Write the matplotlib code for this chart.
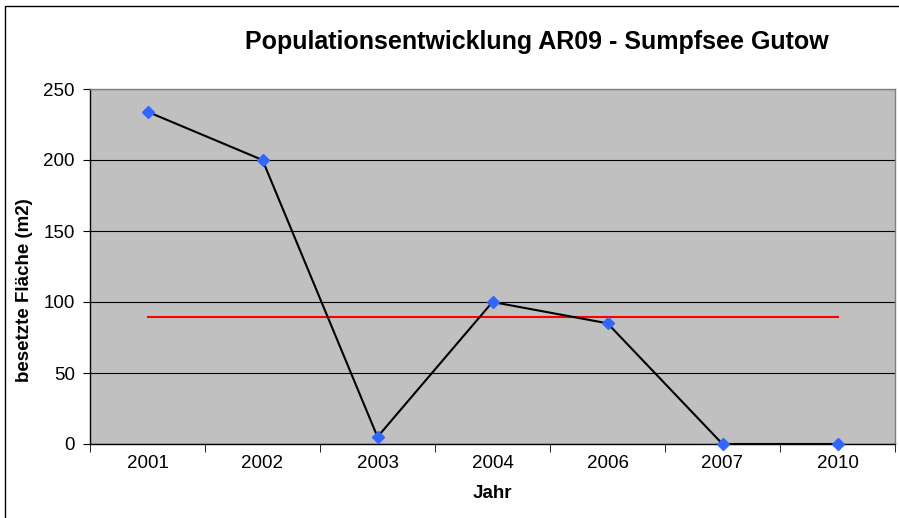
import matplotlib.pyplot as plt
import matplotlib.patches as mpatches
import numpy as np

plt.rcParams['font.family'] = ['Liberation Sans', 'DejaVu Sans']

# data
years = ["2001", "2002", "2003", "2004", "2006", "2007", "2010"]
area = [234, 200, 5, 100, 85, 0, 0]
mean_area = np.mean(area)

fig = plt.figure(figsize=(8.99, 5.18), dpi=100)
ax = fig.add_axes([90/899, 1 - 444/518, 805/899, 355/518])

x = np.arange(len(years))
ax.set_facecolor("#C0C0C0")
ax.plot(x, area, color="black", lw=1.5, marker="D", markersize=6.2,
        markerfacecolor="#3366FF", markeredgecolor="#3366FF", zorder=4,
        clip_on=False)
ax.plot([x[0], x[-1]], [mean_area, mean_area], color="#FF0000", lw=1.5, zorder=3)

ax.set_xlim(-0.5, len(years) - 0.5)
ax.set_ylim(0, 250)
ax.set_yticks(np.arange(0, 251, 50))
ax.set_xticks(x)
ax.set_xticklabels(years)
ax.set_xticks(np.arange(-0.5, len(years)), minor=True)
ax.tick_params(axis="x", which="major", length=0, labelsize=13.5, pad=8)
ax.tick_params(axis="x", which="minor", length=6, direction="out", color="black")
ax.tick_params(axis="y", length=5, direction="out", labelsize=13.5, pad=6)
ax.grid(axis="y", color="black", lw=0.8)
ax.set_axisbelow(True)

for s in ["top", "right"]:
    ax.spines[s].set_color("#808080")
    ax.spines[s].set_linewidth(1.0)
for s in ["left", "bottom"]:
    ax.spines[s].set_color("black")
    ax.spines[s].set_linewidth(1.0)

fig.text(537/899, 1 - 42/518, "Populationsentwicklung AR09 - Sumpfsee Gutow",
         ha="center", va="center", fontsize=18, fontweight="bold")
fig.text(25/899, 1 - 290/518, "besetzte Fläche (m2)", rotation=90,
         ha="center", va="center", fontsize=13.5, fontweight="bold")
fig.text(492/899, 1 - 494/518, "Jahr", ha="center", va="center",
         fontsize=13.5, fontweight="bold")

# chart border
fig.patches.append(mpatches.Rectangle((5/899, -0.1), 1.2, 1 - 6/518 + 0.1,
                                      transform=fig.transFigure, fill=False,
                                      edgecolor="black", lw=1.0))

fig.savefig("out.png", dpi=100)
